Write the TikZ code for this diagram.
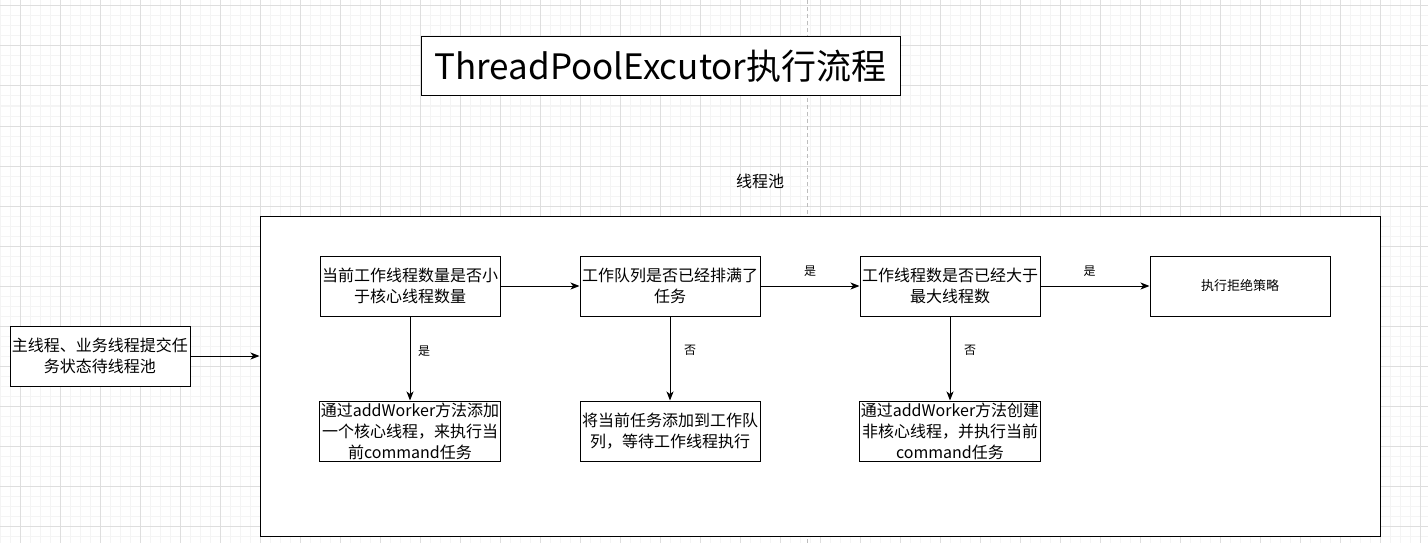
\documentclass[tikz,border=0pt]{standalone}
\usepackage{fontspec}
\setmainfont{Noto Sans CJK SC}
\usetikzlibrary{arrows.meta}
\definecolor{minorgrid}{HTML}{F4F4F4}
\definecolor{majorgrid}{HTML}{DEDEDE}
\definecolor{guide}{HTML}{BDBDBD}
\tikzset{
  box/.style={draw=black, fill=white, line width=1pt, minimum width=180pt, minimum height=60pt,
    inner sep=1pt, align=center, font=\fontsize{16}{21}\selectfont},
  lbl/.style={font=\fontsize{12}{14}\selectfont, inner sep=0pt},
  arr/.style={draw=black, line width=1pt, -{Stealth[length=9pt,width=7pt,inset=2.5pt]}},
}
\begin{document}
\begin{tikzpicture}[x=1pt,y=-1pt]
\useasboundingbox (0,0) rectangle (1428,543);
\fill[white] (0,0) rectangle (1428,543);
% grid
\foreach \x in {0,10,...,1420} \draw[minorgrid, line width=1pt] (\x,0) -- (\x,543);
\foreach \y in {6,16,...,536} \draw[minorgrid, line width=1pt] (0,\y) -- (1428,\y);
\foreach \x in {20,60,...,1420} \draw[majorgrid, line width=1pt] (\x,0) -- (\x,543);
\foreach \y in {6,46,...,536} \draw[majorgrid, line width=1pt] (0,\y) -- (1428,\y);
% page guide
\draw[guide, line width=1pt, dash pattern=on 4pt off 3pt] (807.5,0) -- (807.5,543);

% title
\node[draw=black, fill=white, line width=1pt, minimum width=479pt, minimum height=59pt, inner sep=0pt,
  font=\fontsize{35}{40}\selectfont] (title) at (660.5,66.5) {ThreadPoolExcutor执行流程};
\node[font=\fontsize{16}{19}\selectfont, inner sep=0pt] (poollbl) at (760,181) {线程池};

% pool container
\node[draw=black, fill=white, line width=1pt, minimum width=1120pt, minimum height=320pt] (pool) at (820,376) {};

% left box
\node[box] (main) at (100,356) {主线程、业务线程提交任\\务状态待线程池};

% row boxes
\node[box] (a) at (410,286) {当前工作线程数量是否小\\于核心线程数量};
\node[box] (b) at (670,286) {工作队列是否已经排满了\\任务};
\node[box] (c) at (950,286) {工作线程数是否已经大于\\最大线程数};
\node[box, font=\fontsize{13}{16}\selectfont] (d) at (1240,286) {执行拒绝策略};
\node[box] (a2) at (410,431) {通过addWorker方法添加\\一个核心线程，来执行当\\前command任务};
\node[box] (b2) at (670,431) {将当前任务添加到工作队\\列，等待工作线程执行};
\node[box] (c2) at (950,431) {通过addWorker方法创建\\非核心线程，并执行当前\\command任务};

% connectors
\draw[arr] (main.east) -- (main.east -| pool.west);
\draw[arr] (a.east) -- (b.west);
\draw[arr] (b.east) -- node[lbl, yshift=15pt] (lb) {是} (c.west);
\draw[arr] (c.east) -- node[lbl, pos=0.45, yshift=15pt] (lc) {是} (d.west);
\draw[arr] (a.south) -- node[lbl, pos=0.41, xshift=14pt] (la) {是} (a2.north);
\draw[arr] (b.south) -- node[lbl, pos=0.4, xshift=20pt] (lb2) {否} (b2.north);
\draw[arr] (c.south) -- node[lbl, pos=0.4, xshift=20pt] (lc2) {否} (c2.north);
\end{tikzpicture}
\end{document}
